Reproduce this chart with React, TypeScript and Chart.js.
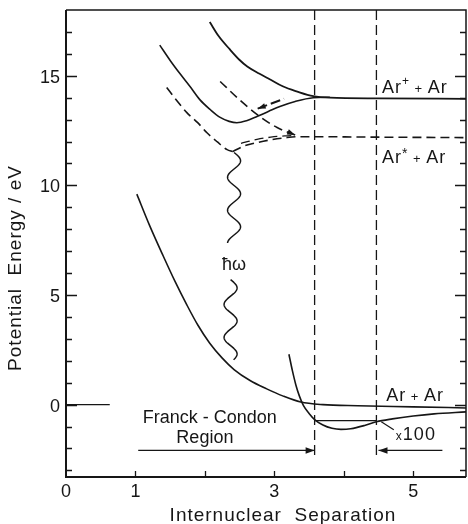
import React, { useEffect, useRef } from 'react';
import { Chart, registerables } from 'chart.js';

Chart.register(...registerables);

// ---- axis ranges & ticks ----
const X_MIN = 0;
const X_MAX = 5.76;
const Y_MIN = -3.3;
const Y_MAX = 18;

const xTickMarks = [1, 2, 3, 4, 5];
const xTickLabelValues = [0, 1, 3, 5];
const yTickMarks = [-3, -2, -1, 0, 1, 2, 3, 4, 5, 6, 7, 8, 9, 10, 11, 12, 13, 14, 15, 16, 17];
const yTickLabelValues = [0, 5, 10, 15];

// ---- curves (internuclear separation, energy / eV) ----
// Ar+ + Ar (upper solid)
const ionAX = [2.07, 2.2, 2.36, 2.5, 2.61, 2.78, 2.94, 3.12, 3.33, 3.56, 3.8, 4.5, 5.76];
const ionAY = [17.45, 16.8, 16.2, 15.72, 15.42, 15.1, 14.83, 14.52, 14.28, 14.07, 14.0, 13.97, 13.95];
// bound ionic state (solid with minimum)
const ionBX = [1.35, 1.5, 1.64, 1.8, 1.93, 2.08, 2.22, 2.35, 2.46, 2.6, 2.75, 2.92, 3.08, 3.3, 3.56, 3.8];
const ionBY = [16.4, 15.7, 15.1, 14.45, 13.9, 13.45, 13.1, 12.92, 12.86, 12.95, 13.14, 13.38, 13.6, 13.83, 14.0, 14.02];
// excimer Ar* + Ar, left branch (dashed)
const excLX = [1.45, 1.6, 1.74, 1.9, 2.03, 2.18, 2.32, 2.4];
const excLY = [14.46, 13.85, 13.32, 12.85, 12.4, 11.98, 11.63, 11.54];
// excimer Ar* + Ar, right branch (dashed)
const excRX = [2.4, 2.55, 2.75, 2.95, 3.15, 3.33, 3.6, 4.5, 5.76];
const excRY = [11.54, 11.78, 11.95, 12.08, 12.17, 12.22, 12.22, 12.2, 12.18];
// second, parallel dashed branch
const exc2X = [2.52, 2.75, 2.95, 3.15, 3.3];
const exc2Y = [11.92, 12.1, 12.2, 12.26, 12.28];
// repulsive dashed curve ending with an arrow
const repX = [2.22, 2.5, 2.79, 3.04, 3.3];
const repY = [14.74, 13.9, 13.14, 12.64, 12.3];
// short dashed arrow
const shortX = [2.76, 3.14];
const shortY = [13.5, 13.95];
// ground state Ar + Ar
const groundX = [1.02, 1.2, 1.4, 1.57, 1.74, 1.9, 2.07, 2.25, 2.42, 2.65, 2.89, 3.12, 3.38, 3.7, 4.2, 5.0, 5.76];
const groundY = [9.6, 8.2, 6.78, 5.62, 4.55, 3.62, 2.8, 2.12, 1.6, 1.1, 0.72, 0.4, 0.12, 0.0, -0.05, -0.1, -0.15];
// ground-state well magnified x100
const wellX = [3.21, 3.26, 3.31, 3.36, 3.42, 3.5, 3.58, 3.7, 3.83, 3.96, 4.1, 4.3, 4.47, 4.7, 5.0, 5.3, 5.76];
const wellY = [2.3, 1.55, 0.9, 0.4, -0.05, -0.4, -0.68, -0.93, -1.08, -1.13, -1.1, -0.95, -0.78, -0.65, -0.52, -0.42, -0.33];
// vibrational level
const levelX = [3.58, 4.47];
const levelY = [-0.73, -0.73];
// zero reference stub
const zeroX = [0, 0.63];
const zeroY = [0, 0];
// Franck-Condon region boundaries
const fcBoundX = [3.58, 4.47];
const fcBoundTop = [18, 18];
const fcBoundBottom = [-2.37, -2.5];
// Franck-Condon arrows
const fcLeftX = [1.04, 3.58];
const fcRightX = [5.42, 4.5];
const fcArrowY = -2.09;
// photon (wavy) segments
const photonX = [2.42, 2.37];
const photonTop = [11.5, 5.7];
const photonBottom = [7.35, 2.05];

const FONT = "'Liberation Sans', Arial, sans-serif";
const INK = '#161616';

const pts = (xs: number[], ys: number[]) => xs.map((x, i) => ({ x, y: ys[i] }));

function curve(data: { x: number; y: number }[], opts: any = {}) {
  return {
    data,
    borderColor: INK,
    borderWidth: 1.6,
    pointRadius: 0,
    fill: false,
    cubicInterpolationMode: 'monotone',
    ...opts,
  };
}

function straight(data: { x: number; y: number }[], opts: any = {}) {
  return {
    data,
    borderColor: INK,
    borderWidth: 1.3,
    pointRadius: 0,
    fill: false,
    tension: 0,
    ...opts,
  };
}

function arrowHead(ctx: CanvasRenderingContext2D, fx: number, fy: number, tx: number, ty: number, len = 9, w = 3.2) {
  const ang = Math.atan2(ty - fy, tx - fx);
  ctx.save();
  ctx.translate(tx, ty);
  ctx.rotate(ang);
  ctx.beginPath();
  ctx.moveTo(0, 0);
  ctx.lineTo(-len, -w);
  ctx.lineTo(-len, w);
  ctx.closePath();
  ctx.fillStyle = INK;
  ctx.fill();
  ctx.restore();
}

type Run = { t: string; s?: number; dy?: number };
function drawRuns(ctx: CanvasRenderingContext2D, x: number, y: number, runs: Run[], align: 'left' | 'center' = 'left') {
  let total = 0;
  const widths = runs.map((r) => {
    ctx.font = `${r.s || 18}px ${FONT}`;
    const w = ctx.measureText(r.t).width;
    total += w;
    return w;
  });
  let cx = align === 'center' ? x - total / 2 : x;
  ctx.textAlign = 'left';
  ctx.textBaseline = 'alphabetic';
  ctx.fillStyle = INK;
  runs.forEach((r, i) => {
    ctx.font = `${r.s || 18}px ${FONT}`;
    ctx.fillText(r.t, cx, y + (r.dy || 0));
    cx += widths[i];
  });
}

const decoPlugin = {
  id: 'deco',
  beforeDraw(chart: any) {
    const { ctx, width, height } = chart;
    ctx.save();
    ctx.fillStyle = '#fff';
    ctx.fillRect(0, 0, width, height);
    ctx.restore();
  },
  afterDraw(chart: any) {
    const ctx: CanvasRenderingContext2D = chart.ctx;
    const a = chart.chartArea;
    const xs = chart.scales.x;
    const ys = chart.scales.y;
    const px = (v: number) => xs.getPixelForValue(v);
    const py = (v: number) => ys.getPixelForValue(v);
    const anyCtx = ctx as any;
    ctx.save();
    ctx.strokeStyle = INK;
    ctx.fillStyle = INK;
    ctx.setLineDash([]);

    // frame
    ctx.lineWidth = 2;
    ctx.beginPath();
    ctx.moveTo(a.left, a.top);
    ctx.lineTo(a.left, a.bottom);
    ctx.lineTo(a.right, a.bottom);
    ctx.stroke();
    ctx.lineWidth = 1.5;
    ctx.beginPath();
    ctx.moveTo(a.left, a.top);
    ctx.lineTo(a.right, a.top);
    ctx.lineTo(a.right, a.bottom);
    ctx.stroke();

    // inward ticks
    ctx.lineWidth = 1.3;
    yTickMarks.forEach((v) => {
      const y = Math.round(py(v)) + 0.5;
      const len = v % 5 === 0 ? 11 : 6;
      ctx.beginPath();
      ctx.moveTo(a.left, y);
      ctx.lineTo(a.left + len, y);
      ctx.moveTo(a.right, y);
      ctx.lineTo(a.right - len, y);
      ctx.stroke();
    });
    xTickMarks.forEach((v) => {
      const x = Math.round(px(v)) + 0.5;
      ctx.beginPath();
      ctx.moveTo(x, a.bottom);
      ctx.lineTo(x, a.bottom - 6);
      ctx.stroke();
    });

    // tick labels
    ctx.font = `18px ${FONT}`;
    ctx.textBaseline = 'alphabetic';
    ctx.textAlign = 'right';
    yTickLabelValues.forEach((v) => ctx.fillText(String(v), a.left - 6, py(v) + 7));
    ctx.textAlign = 'center';
    xTickLabelValues.forEach((v) => ctx.fillText(String(v), px(v), a.bottom + 20));

    // axis titles
    anyCtx.letterSpacing = '1px';
    ctx.font = `19px ${FONT}`;
    ctx.textAlign = 'center';
    ctx.fillText('Internuclear  Separation', 283, 521);
    ctx.save();
    ctx.translate(21, 268);
    ctx.rotate(-Math.PI / 2);
    ctx.fillText('Potential  Energy / eV', 0, 0);
    ctx.restore();

    // state labels
    anyCtx.letterSpacing = '1px';
    drawRuns(ctx, px(4.55), py(14.23), [{ t: 'Ar' }, { t: '+', s: 12, dy: -8 }, { t: ' + ', s: 13 }, { t: 'Ar' }]);
    drawRuns(ctx, px(4.55), py(11.04), [{ t: 'Ar' }, { t: '*', s: 14, dy: -5 }, { t: ' + ', s: 13 }, { t: 'Ar' }]);
    drawRuns(ctx, px(4.61), py(0.18), [{ t: 'Ar' }, { t: ' + ', s: 13 }, { t: 'Ar' }]);
    drawRuns(ctx, px(4.75), py(-1.6), [{ t: 'x', s: 12 }, { t: '100', s: 18 }]);
    anyCtx.letterSpacing = '0px';
    drawRuns(ctx, px(2.07), py(-0.82), [{ t: 'Franck - Condon', s: 18 }], 'center');
    drawRuns(ctx, px(2.0), py(-1.73), [{ t: 'Region', s: 18 }], 'center');
    drawRuns(ctx, px(2.42), py(6.16), [{ t: 'ħω', s: 18 }], 'center');

    // leader for x100
    ctx.lineWidth = 1.2;
    ctx.beginPath();
    ctx.moveTo(px(4.54), py(-0.78));
    ctx.lineTo(px(4.72), py(-1.14));
    ctx.stroke();

    // arrowheads
    arrowHead(ctx, px(3.0), py(fcArrowY), px(fcLeftX[1]), py(fcArrowY));
    arrowHead(ctx, px(5.0), py(fcArrowY), px(fcRightX[1]), py(fcArrowY));
    arrowHead(ctx, px(repX[3]), py(repY[3]), px(repX[4]), py(repY[4]), 8, 2.8);
    arrowHead(ctx, px(shortX[1]), py(shortY[1]), px(shortX[0]), py(shortY[0]), 8, 2.8);

    // photon wavy lines
    ctx.lineWidth = 1.5;
    for (let k = 0; k < photonX.length; k++) {
      const cx = px(photonX[k]);
      const y0 = py(photonTop[k]);
      const y1 = py(photonBottom[k]);
      const amp = 6.5;
      const lambda = 33;
      ctx.beginPath();
      for (let y = y0; y <= y1; y += 0.5) {
        const t = y - y0;
        const x = cx + amp * Math.sin((2 * Math.PI * t) / lambda);
        if (y === y0) ctx.moveTo(x, y);
        else ctx.lineTo(x, y);
      }
      ctx.stroke();
    }
    ctx.restore();
  },
};

export default function App() {
  const ref = useRef<HTMLCanvasElement>(null);
  useEffect(() => {
    const dashed = [9, 5];
    const chart = new Chart(ref.current as HTMLCanvasElement, {
      type: 'line',
      data: {
        datasets: [
          curve(pts(ionAX, ionAY), { borderWidth: 1.8 }),
          curve(pts(ionBX, ionBY)),
          curve(pts(excLX, excLY), { borderDash: dashed }),
          curve(pts(excRX, excRY), { borderDash: dashed }),
          curve(pts(exc2X, exc2Y), { borderDash: dashed, borderWidth: 1.3 }),
          curve(pts(repX, repY), { borderDash: dashed }),
          straight(pts(shortX, shortY), { borderDash: [10, 4], borderWidth: 2 }),
          curve(pts(groundX, groundY)),
          curve(pts(wellX, wellY)),
          straight(pts(levelX, levelY)),
          straight(pts(zeroX, zeroY)),
          straight(pts([fcBoundX[0], fcBoundX[0]], [fcBoundTop[0], fcBoundBottom[0]]), { borderDash: [10, 5] }),
          straight(pts([fcBoundX[1], fcBoundX[1]], [fcBoundTop[1], fcBoundBottom[1]]), { borderDash: [10, 5] }),
          straight(pts(fcLeftX, [fcArrowY, fcArrowY])),
          straight(pts(fcRightX, [fcArrowY, fcArrowY])),
        ],
      },
      options: {
        animation: false,
        responsive: false,
        events: [],
        layout: { padding: { left: 66, top: 10, right: 2, bottom: 47 } },
        scales: {
          x: { type: 'linear', min: X_MIN, max: X_MAX, display: false },
          y: { type: 'linear', min: Y_MIN, max: Y_MAX, display: false },
        },
        plugins: { legend: { display: false }, tooltip: { enabled: false } },
      },
      plugins: [decoPlugin],
    } as any);
    return () => chart.destroy();
  }, []);
  return (
    <div style={{ position: 'fixed', left: 0, top: 0, width: 468, height: 524, background: '#fff' }}>
      <canvas ref={ref} width={468} height={524} style={{ display: 'block', width: 468, height: 524 }} />
    </div>
  );
}
